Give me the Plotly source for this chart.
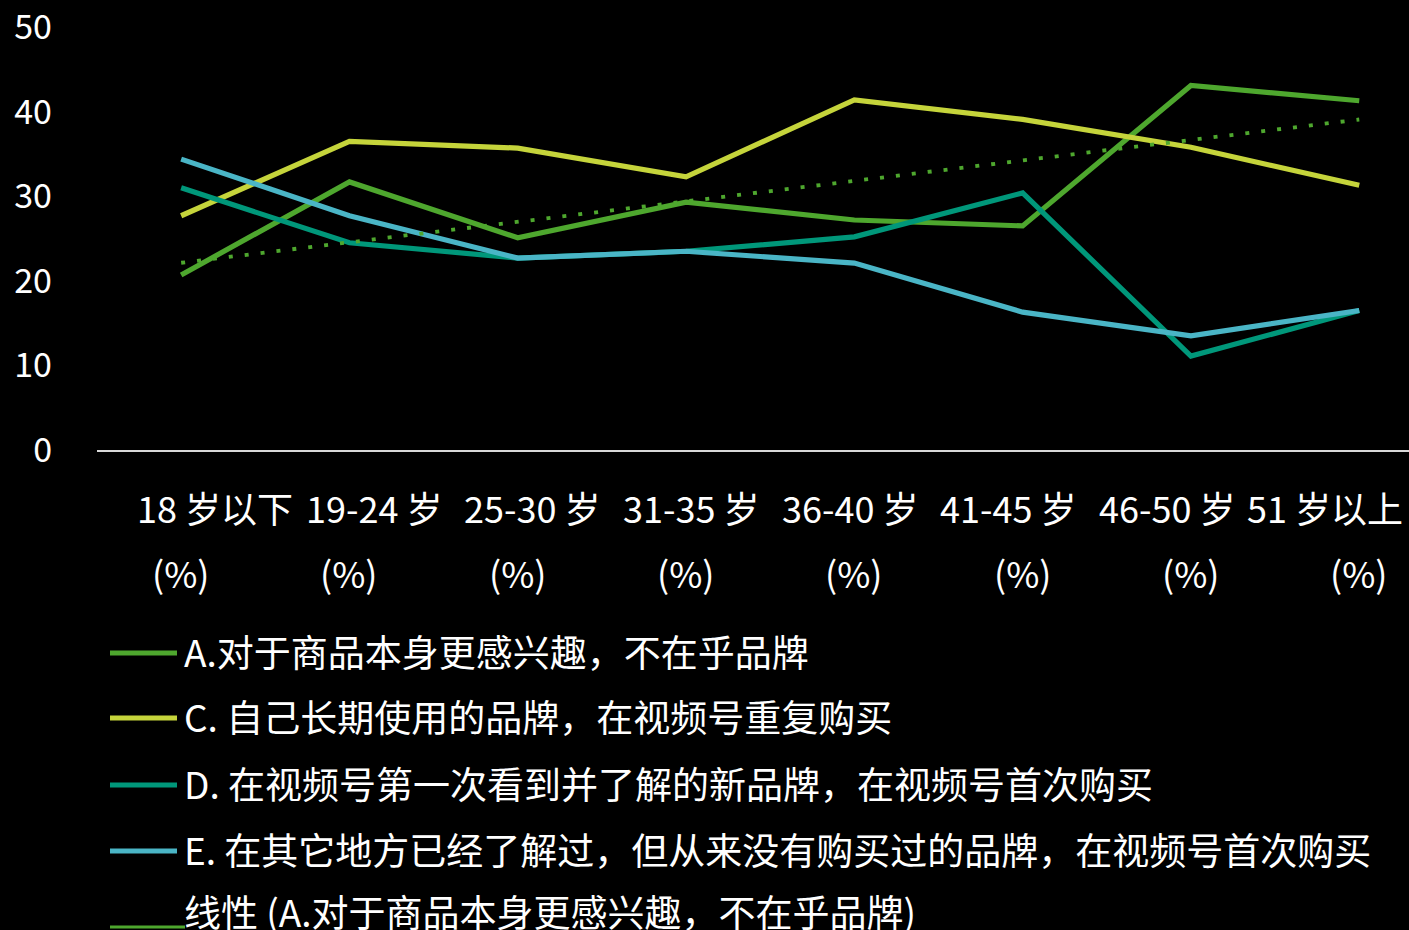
import numpy as np
import plotly.graph_objects as go

# ---------------- data ----------------
categories = ["18 岁以下", "19-24 岁", "25-30 岁", "31-35 岁",
              "36-40 岁", "41-45 岁", "46-50 岁", "51 岁以上"]
tick_line1 = ["18 岁以下", "19-24 岁", "25-30 岁", "31-35 岁",
              "36-40 岁", "41-45 岁", "46-50 岁", "51 岁以上"]
tick_line2 = ["(%)"] * 8

series_a = [20.7, 31.7, 25.1, 29.3, 27.2, 26.5, 43.1, 41.3]
series_c = [27.7, 36.5, 35.7, 32.3, 41.4, 39.1, 35.8, 31.3]
series_d = [31.0, 24.5, 22.7, 23.5, 25.2, 30.4, 11.1, 16.5]
series_e = [34.4, 27.7, 22.7, 23.5, 22.1, 16.3, 13.5, 16.5]

name_a = "A.对于商品本身更感兴趣，不在乎品牌"
name_c = "C. 自己长期使用的品牌，在视频号重复购买"
name_d = "D. 在视频号第一次看到并了解的新品牌，在视频号首次购买"
name_e = "E. 在其它地方已经了解过，但从来没有购买过的品牌，在视频号首次购买"
name_t = "线性 (A.对于商品本身更感兴趣，不在乎品牌)"

y_ticks = [0, 10, 20, 30, 40, 50]

# linear trendline of series A (as in the original chart's trendline)
xi = np.arange(len(series_a))
slope, intercept = np.polyfit(xi, series_a, 1)
trend_a = list(slope * xi + intercept)

# ---------------- style ----------------
col_a = "#4EA72E"
col_c = "#C5D43B"
col_d = "#00977A"
col_e = "#4AB5C6"
FONT = "Noto Sans CJK SC"
W, H = 1409, 930
ML, MR, MT, MB = 97, 0, 27, 480
PW, PH = W - ML - MR, H - MT - MB

def px_x(px):
    return (px - ML) / PW

def px_y(py):
    return (H - MB - py) / PH

fig = go.Figure()
for vals, col, nm in [(series_a, col_a, name_a), (series_c, col_c, name_c),
                      (series_d, col_d, name_d), (series_e, col_e, name_e)]:
    fig.add_trace(go.Scatter(x=categories, y=vals, mode="lines", name=nm,
                             line=dict(color=col, width=5.2), showlegend=False))
fig.add_trace(go.Scatter(x=categories, y=trend_a, mode="lines", name=name_t,
                         line=dict(color=col_a, width=3.8, dash="4px,12px"),
                         showlegend=False))

annotations = []
shapes = []
# category labels (two lines)
for i, (c, l1, l2) in enumerate(zip(categories, tick_line1, tick_line2)):
    annotations.append(dict(x=c, xref="x", y=px_y(507), yref="paper",
                            text=l1, showarrow=False, xanchor="center",
                            yanchor="middle", xshift=(3.5 - i) * 9.7,
                            font=dict(family=FONT, size=36, color="white")))
    annotations.append(dict(x=c, xref="x", y=px_y(572), yref="paper",
                            text=l2, showarrow=False, xanchor="center",
                            yanchor="middle",
                            font=dict(family=FONT, size=36, color="white")))

# custom legend
legend_rows = [(name_a, col_a, 653), (name_c, col_c, 718),
               (name_d, col_d, 785), (name_e, col_e, 851)]
for nm, col, py in legend_rows:
    shapes.append(dict(type="line", xref="paper", yref="paper",
                       x0=px_x(110), x1=px_x(177), y0=px_y(py), y1=px_y(py),
                       line=dict(color=col, width=5)))
    annotations.append(dict(x=px_x(182), y=px_y(py - 2), xref="paper", yref="paper",
                            text=nm, showarrow=False, xanchor="left",
                            yanchor="middle",
                            font=dict(family=FONT, size=37, color="white")))
shapes.append(dict(type="line", xref="paper", yref="paper",
                   x0=px_x(110), x1=px_x(185), y0=px_y(927), y1=px_y(927),
                   line=dict(color=col_a, width=3)))
annotations.append(dict(x=px_x(182), y=px_y(911), xref="paper", yref="paper",
                        text=name_t, showarrow=False, xanchor="left",
                        yanchor="middle",
                        font=dict(family=FONT, size=37, color="white")))

fig.update_layout(
    width=W, height=H,
    margin=dict(l=ML, r=MR, t=MT, b=MB, pad=0),
    paper_bgcolor="black", plot_bgcolor="black",
    font=dict(family=FONT, color="white"),
    showlegend=False,
    annotations=annotations,
    shapes=shapes,
    xaxis=dict(type="category", range=[-0.5, -0.5 + PW / 168.3],
               showgrid=False, zeroline=False, showticklabels=False,
               showline=True, linecolor="#D9D9D9", linewidth=2, ticks=""),
    yaxis=dict(range=[0, 50.02], tickvals=y_ticks, showgrid=False,
               zeroline=False, showline=False, ticks="",
               ticklabelstandoff=44,
               tickfont=dict(family=FONT, size=34, color="white")),
)

fig.write_html("out.html")
